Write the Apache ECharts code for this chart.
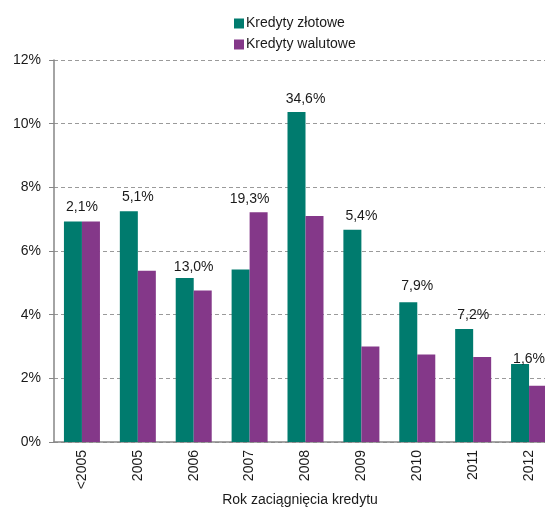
<!DOCTYPE html>
<html>
<head>
<meta charset="utf-8">
<script src="https://cdn.jsdelivr.net/npm/echarts@6/dist/echarts.min.js"></script>
<style>
html,body{margin:0;padding:0;background:#fff;}
#c{width:545px;height:509px;}
</style>
</head>
<body>
<div id="c"></div>
<script>
const categories = ['<2005', '2005', '2006', '2007', '2008', '2009', '2010', '2011', '2012'];
const zlotowe = [6.93, 7.25, 5.15, 5.42, 10.37, 6.67, 4.39, 3.55, 2.45];
const walutowe = [6.93, 5.38, 4.76, 7.22, 7.10, 3.00, 2.75, 2.67, 1.77];
const shareLabels = ['2,1%', '5,1%', '13,0%', '19,3%', '34,6%', '5,4%', '7,9%', '7,2%', '1,6%'];
const yTicks = [0, 2, 4, 6, 8, 10, 12];

const GREEN = '#007b6e';
const PURPLE = '#843889';
const FONT = 'Liberation Sans, Arial, sans-serif';
const TXT = '#1a1a1a';
// label distance tweaks (style only)
const labelDist = [7, 7, 4, 6, 6, 7, 9, 7, -2];

function buildData(vals, other, isGreen) {
  return vals.map((v, i) => {
    const mine = isGreen ? v >= other[i] : v > other[i];
    const item = { value: v };
    if (mine) {
      item.label = {
        show: true,
        position: 'top',
        distance: labelDist[i],
        offset: [isGreen ? 9 : -9, 0],
        formatter: shareLabels[i],
        fontFamily: FONT,
        fontSize: 14,
        color: TXT
      };
    }
    return item;
  });
}

const chart = echarts.init(document.getElementById('c'));
chart.setOption({
  animation: false,
  backgroundColor: '#fff',
  textStyle: { fontFamily: FONT },
  legend: {
    orient: 'vertical',
    left: 229,
    top: 11,
    itemWidth: 10,
    itemHeight: 10,
    itemGap: 6,
    icon: 'rect',
    textStyle: { fontFamily: FONT, fontSize: 14, color: TXT, lineHeight: 15, padding: [0, 0, 0, -3] },
    data: ['Kredyty złotowe', 'Kredyty walutowe']
  },
  grid: { left: 54, width: 503, top: 60, height: 382, containLabel: false, outerBoundsMode: 'none' },
  xAxis: {
    type: 'category',
    data: categories,
    axisLine: { lineStyle: { color: '#868686', width: 1.5 } },
    axisTick: { show: false },
    axisLabel: { rotate: 90, margin: 8, fontFamily: FONT, fontSize: 14, color: TXT }
  },
  yAxis: {
    type: 'value',
    min: 0, max: 12, interval: 2,
    axisLine: { show: true, lineStyle: { color: '#868686', width: 1.5 } },
    axisTick: { show: true, length: 5, lineStyle: { color: '#868686' } },
    axisLabel: {
      margin: 13, fontFamily: FONT, fontSize: 14, color: TXT,
      formatter: v => yTicks.includes(v) ? v + '%' : ''
    },
    splitLine: { show: true, lineStyle: { color: '#9a9a9a', type: [4, 3], width: 1 } }
  },
  graphic: [{
    type: 'text',
    x: 300,
    y: 500,
    style: {
      text: 'Rok zaciągnięcia kredytu',
      font: '14px ' + FONT,
      fill: TXT,
      textAlign: 'center',
      textVerticalAlign: 'middle'
    }
  }],
  series: [
    {
      name: 'Kredyty złotowe',
      type: 'bar',
      barWidth: 18,
      barGap: '0%',
      itemStyle: { color: GREEN },
      data: buildData(zlotowe, walutowe, true)
    },
    {
      name: 'Kredyty walutowe',
      type: 'bar',
      barWidth: 18,
      barGap: '0%',
      itemStyle: { color: PURPLE },
      data: buildData(walutowe, zlotowe, false)
    }
  ]
});
</script>
</body>
</html>
